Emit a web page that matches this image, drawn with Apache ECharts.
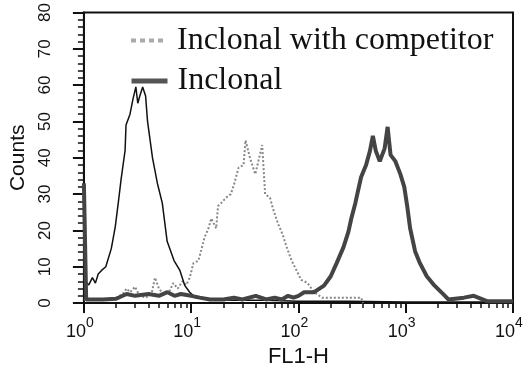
<!DOCTYPE html>
<html>
<head>
<meta charset="utf-8">
<script src="https://cdn.jsdelivr.net/npm/echarts@6/dist/echarts.min.js"></script>
<style>
html,body{margin:0;padding:0;background:#fff;}
#chart{width:529px;height:373px;}
</style>
</head>
<body>
<div id="chart"></div>
<script>
// Control (thin black line)
const ctrlFL1 = [1.0, 1.03, 1.11, 1.2, 1.28, 1.36, 1.46, 1.6, 1.8, 1.96, 2.09, 2.22, 2.42, 2.47, 2.69, 2.86, 3.05, 3.18, 3.32, 3.53, 3.76, 3.92, 4.36, 4.84, 5.38, 5.97, 6.92, 7.85, 8.73, 9.69, 11, 15, 25, 50, 100, 300, 1000, 10000];
const ctrlCounts = [19, 6, 5, 7, 5.5, 8, 9, 10, 15, 21, 27.5, 34, 42, 49, 52, 56, 59.5, 55, 57, 59.5, 57, 50, 40, 33, 27.5, 17, 11.7, 9, 4.8, 3, 1.5, 1, 0.8, 0.8, 0.5, 0.5, 0.3, 0.3];

// Inclonal with competitor (dotted grey)
const compFL1 = [1.0, 1.5, 2.0, 2.3, 2.5, 2.7, 3.0, 3.3, 3.8, 4.3, 4.6, 5.0, 5.5, 6.2, 6.8, 7.5, 8.3, 9.0, 9.7, 10.5, 11.7, 13.3, 14.5, 15.4, 17.1, 17.8, 19.0, 21.1, 23.4, 25.0, 27.7, 30.8, 32.1, 35.7, 39.6, 45.9, 48.9, 54.3, 57.9, 64.3, 71.4, 77.7, 86.3, 95.9, 106, 121, 140, 166, 250, 384, 400];
const compCounts = [1, 1, 1.5, 2.5, 4, 3, 4.5, 2, 1.5, 3, 7, 4, 2.5, 3, 5.5, 4, 6, 5, 7, 11, 11.7, 18, 20.6, 23.3, 20.6, 26.7, 27.5, 29, 30, 32.5, 37.3, 38, 44.8, 39.5, 35.5, 43.5, 30, 29, 26, 22, 18.8, 15.4, 11.7, 9, 6.4, 5.6, 3, 1.5, 1.5, 1.5, 0];

// Inclonal (thick dark grey)
const inclFL1 = [1.0, 1.05, 1.5, 2.0, 2.5, 3, 4, 5, 6, 7, 8, 10, 12, 15, 20, 25, 30, 40, 50, 60, 70, 80, 90, 100, 113, 140, 173, 200, 227, 263, 292, 311, 339, 361, 384, 427, 464, 494, 526, 573, 636, 678, 722, 802, 891, 969, 1032, 1099, 1222, 1356, 1571, 1858, 2249, 2497, 3491, 4312, 5790, 10000];
const inclCounts = [33, 1, 1, 1.2, 2.5, 2, 2.5, 2, 3, 2, 2.5, 2, 1.5, 1, 1, 1.5, 1, 2, 1, 1.5, 1, 2, 1.5, 2, 3, 3, 4.8, 7.4, 11, 15.4, 19.6, 23.3, 27.5, 31.2, 34.7, 38, 41.9, 46, 41.9, 39, 42.6, 48.5, 40.8, 39, 35.5, 32, 26.7, 20.6, 14.3, 11, 7.4, 4.8, 2.4, 1, 1.5, 2, 0.5, 0.5];

const xMajorTicks = [1, 10, 100, 1000, 10000];
const xMinorTicks = [2,3,4,5,6,7,8,9,20,30,40,50,60,70,80,90,200,300,400,500,600,700,800,900,2000,3000,4000,5000,6000,7000,8000,9000];
const yTicks = [0, 10, 20, 30, 40, 50, 60, 70, 80];

const seriesNames = ['Control', 'Inclonal with competitor', 'Inclonal'];

const zip = (xs, ys) => xs.map((x, i) => [x, ys[i]]);

const chart = echarts.init(document.getElementById('chart'), null, {renderer: 'canvas'});
const sans = 'Liberation Sans, Arial, sans-serif';
const serif = 'Liberation Serif, Times New Roman, serif';

chart.setOption({
  backgroundColor: '#fff',
  animation: false,
  grid: {left: 75, right: 16, top: 9, bottom: 62, show: true, borderColor: '#111', borderWidth: 2, backgroundColor: 'transparent'},
  legend: [
    {
      data: [{name: seriesNames[1], lineStyle: {type: [5, 4], width: 4, color: '#aaa'}, itemStyle: {opacity: 0}}],
      left: 129, top: 24.5, orient: 'vertical', padding: 0,
      itemWidth: 36, itemHeight: 6,
      textStyle: {fontFamily: serif, fontSize: 32, color: '#111', padding: [0, 0, 10, 5]},
      selectedMode: false
    },
    {
      data: [{name: seriesNames[2], lineStyle: {width: 5, color: '#555'}, itemStyle: {opacity: 0}}],
      left: 129, top: 65, orient: 'vertical', padding: 0,
      itemWidth: 36, itemHeight: 6,
      textStyle: {fontFamily: serif, fontSize: 32, color: '#111', padding: [0, 0, 16, 5]},
      selectedMode: false
    }
  ],
  xAxis: [
    {
      type: 'log', logBase: 10, min: 1, max: 10000,
      name: 'FL1-H', nameLocation: 'middle', nameGap: 41,
      nameTextStyle: {fontFamily: sans, fontSize: 22, color: '#111'},
      axisLine: {lineStyle: {color: '#111', width: 2}},
      axisTick: {show: true, length: 10, lineStyle: {color: '#111', width: 2}, customValues: xMajorTicks},
      axisLabel: {
        customValues: xMajorTicks,
        margin: 13,
        formatter: v => '{b|10}{s|' + Math.round(Math.log10(v)) + '}',
        rich: {
          b: {fontFamily: sans, fontSize: 18, color: '#111', padding: [7, 0, 0, 0]},
          s: {fontFamily: sans, fontSize: 14, color: '#111', verticalAlign: 'top', padding: [0, 8, 0, 0]}
        }
      },
      splitLine: {show: false}
    },
    {
      type: 'log', logBase: 10, min: 1, max: 10000, position: 'bottom',
      axisLine: {show: false},
      axisTick: {show: true, length: 5, lineStyle: {color: '#111', width: 1.5}, customValues: xMinorTicks},
      axisLabel: {show: false},
      splitLine: {show: false}
    }
  ],
  yAxis: {
    type: 'value', min: 0, max: 80, interval: 10,
    name: 'Counts', nameLocation: 'middle', nameGap: 48, nameRotate: 90,
    nameTextStyle: {fontFamily: sans, fontSize: 21, color: '#111'},
    axisLine: {show: true, lineStyle: {color: '#111', width: 2}},
    axisTick: {show: true, length: 11, lineStyle: {color: '#111', width: 2}},
    minorTick: {show: true, splitNumber: 5, length: 6, lineStyle: {color: '#111', width: 1.5}},
    axisLabel: {rotate: 90, fontFamily: sans, fontSize: 17, color: '#111', margin: 30, customValues: yTicks},
    splitLine: {show: false}
  },
  series: [
    {
      name: seriesNames[1], type: 'line', xAxisIndex: 0, symbol: 'none',
      data: zip(compFL1, compCounts),
      itemStyle: {color: '#888'},
      lineStyle: {color: '#888', width: 2, type: [2, 2]}, z: 2
    },
    {
      name: seriesNames[0], type: 'line', xAxisIndex: 0, symbol: 'none',
      data: zip(ctrlFL1, ctrlCounts),
      itemStyle: {color: '#111'},
      lineStyle: {color: '#111', width: 1.5}, z: 3
    },
    {
      name: seriesNames[2], type: 'line', xAxisIndex: 0, symbol: 'none',
      data: zip(inclFL1, inclCounts),
      itemStyle: {color: '#444'},
      lineStyle: {color: '#444', width: 4}, z: 4
    }
  ]
});
</script>
</body>
</html>
